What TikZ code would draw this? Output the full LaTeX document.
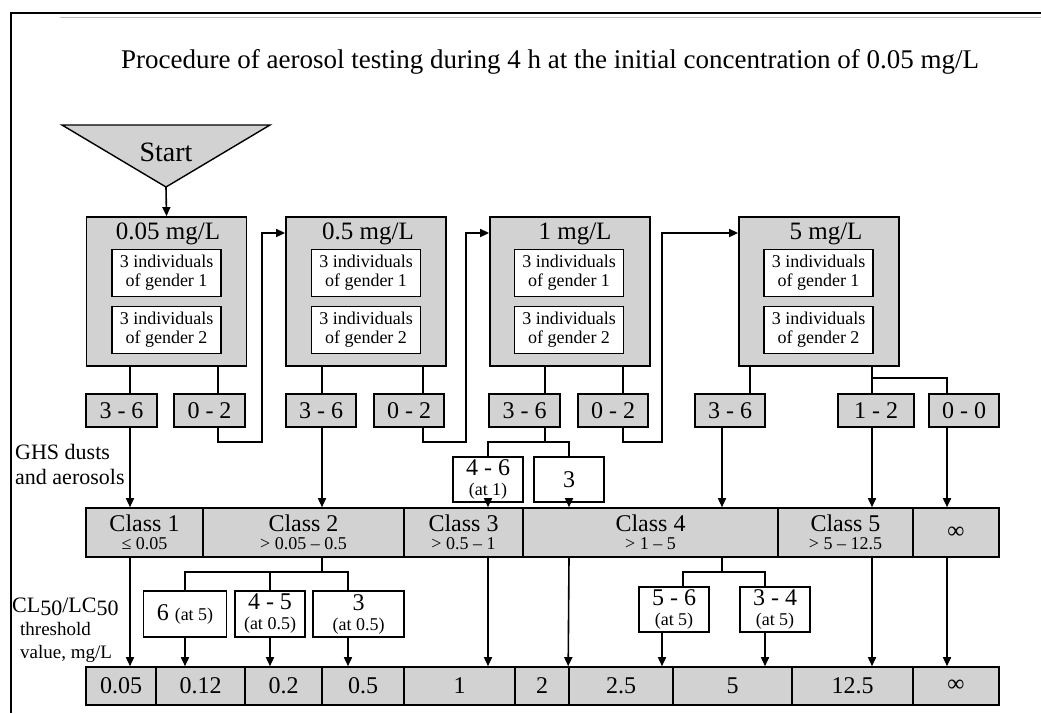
\documentclass[tikz,border=0pt]{standalone}
\usepackage{fontspec}
\setmainfont{Liberation Serif}
\usetikzlibrary{arrows.meta}
\definecolor{gris}{HTML}{D2D2D2}
\newcommand{\chico}{\fontsize{18}{18}\selectfont}
\newcommand{\medio}{\fontsize{18}{18}\selectfont}
\tikzset{
  conc/.style={draw, fill=gris, line width=1.8pt, minimum width=160pt, minimum height=149pt, inner sep=0pt},
  conct/.style={font=\fontsize{25}{25}\selectfont, inner sep=0pt},
  indiv/.style={draw, fill=white, line width=1.2pt, minimum width=109pt, minimum height=47pt,
                inner sep=0pt, align=center, font=\fontsize{18}{19}\selectfont},
  res/.style={draw, fill=gris, line width=1.6pt, minimum height=33pt, inner sep=0pt, font=\fontsize{24}{24}\selectfont},
  clase/.style={draw, fill=gris, line width=1.6pt, minimum height=49pt, inner sep=0pt, align=center,
                font=\fontsize{24}{18}\selectfont},
  valor/.style={draw, fill=gris, line width=1.6pt, minimum height=38pt, inner sep=0pt, font=\fontsize{24}{24}\selectfont},
  nota/.style={draw, fill=white, line width=1.4pt, inner sep=0pt, align=center, font=\fontsize{24}{20}\selectfont},
  rotulo/.style={anchor=west, align=left, inner sep=0pt},
  linea/.style={line width=1.6pt},
  flecha/.style={line width=1.6pt, -{Triangle[length=9pt,width=8pt]}},
}

\begin{document}
\begin{tikzpicture}[x=1pt, y=-1pt]
  \useasboundingbox (0,0) rectangle (1041,713);
  % marco
  \draw[line width=1.6pt] (11,713) -- (11,13) -- (1041,13);
  \draw[gray!50, line width=1pt] (60,17.5) -- (1041,17.5);
  \node[font=\fontsize{27}{27}\selectfont] (tit) at (550,62) {Procedure of aerosol testing during 4 h at the initial concentration of 0.05 mg/L};

  % inicio
  \draw[fill=gris, line width=1.4pt] (62,125) -- (270,125) -- (166,187) coordinate (ini) -- cycle;
  \node[font=\fontsize{28}{28}\selectfont] (start) at (166,152) {Start};

  % concentraciones
  \node[conc] (c1) at (166.5,291.5) {};
  \node[conc] (c2) at (366,291.5) {};
  \node[conc] (c3) at (570,291.5) {};
  \node[conc] (c4) at (819,291.5) {};
  \node[conct] (c1t) at (168,234) {0.05 mg/L};
  \node[conct] (c2t) at (368,234) {0.5 mg/L};
  \node[conct] (c3t) at (575,234) {1 mg/L};
  \node[conct] (c4t) at (826,234) {5 mg/L};
  \node[indiv] (c1a) at (166.5,273) {3 individuals\\of gender 1};
  \node[indiv] (c1b) at (166.5,330) {3 individuals\\of gender 2};
  \node[indiv] (c2a) at (366,273) {3 individuals\\of gender 1};
  \node[indiv] (c2b) at (366,330) {3 individuals\\of gender 2};
  \node[indiv] (c3a) at (569,273) {3 individuals\\of gender 1};
  \node[indiv] (c3b) at (569,330) {3 individuals\\of gender 2};
  \node[indiv] (c4a) at (818.5,273) {3 individuals\\of gender 1};
  \node[indiv] (c4b) at (818.5,330) {3 individuals\\of gender 2};

  % resultados
  \node[res, minimum width=71pt] (r1a) at (121.5,410.5) {3 - 6};
  \node[res, minimum width=71pt] (r1b) at (209.5,410.5) {0 - 2};
  \node[res, minimum width=70pt] (r2a) at (321,410.5) {3 - 6};
  \node[res, minimum width=70pt] (r2b) at (409,410.5) {0 - 2};
  \node[res, minimum width=71pt] (r3a) at (524.5,410.5) {3 - 6};
  \node[res, minimum width=70pt] (r3b) at (613,410.5) {0 - 2};
  \node[res, minimum width=70pt] (r4a) at (730,410.5) {3 - 6};
  \node[res, minimum width=76pt] (r4b) at (876,410.5) {1 - 2};
  \node[res, minimum width=70pt] (r4c) at (964,410.5) {0 - 0};

  % clases GHS
  \node[clase, minimum width=117pt] (k1) at (144.5,532.5) {Class 1\\{\chico ≤ 0.05}};
  \node[clase, minimum width=201pt] (k2) at (303.5,532.5) {Class 2\\{\chico > 0.05 – 0.5}};
  \node[clase, minimum width=119pt] (k3) at (463.5,532.5) {Class 3\\{\chico > 0.5 – 1}};
  \node[clase, minimum width=255pt] (k4) at (650.5,532.5) {Class 4\\{\chico > 1 – 5}};
  \node[clase, minimum width=135pt] (k5) at (845.5,532.5) {Class 5\\{\chico > 5 – 12.5}};
  \node[clase, minimum width=86pt] (k6) at (956,532.5) {∞};

  % notas
  \node[nota, minimum width=70pt, minimum height=45pt] (w1) at (488,479.5) {4 - 6\\{\medio (at 1)}};
  \node[nota, minimum width=70pt, minimum height=45pt] (w2) at (569,479.5) {3};
  \node[nota, minimum width=83pt, minimum height=46pt] (w3) at (185,614) {6 {\medio (at 5)}};
  \node[nota, minimum width=70pt, minimum height=46pt] (w4) at (270,614) {4 - 5\\{\medio (at 0.5)}};
  \node[nota, minimum width=91pt, minimum height=46pt] (w5) at (358.5,614) {3\\{\medio (at 0.5)}};
  \node[nota, minimum width=70pt, minimum height=45pt] (w6) at (674,609.5) {5 - 6\\{\medio (at 5)}};
  \node[nota, minimum width=70pt, minimum height=45pt] (w7) at (775,609.5) {3 - 4\\{\medio (at 5)}};

  % valores CL50
  \node[valor, minimum width=70pt] (b1) at (121,686) {0.05};
  \node[valor, minimum width=89pt] (b2) at (200.5,686) {0.12};
  \node[valor, minimum width=77pt] (b3) at (283.5,686) {0.2};
  \node[valor, minimum width=82pt] (b4) at (363,686) {0.5};
  \node[valor, minimum width=111pt] (b5) at (459.5,686) {1};
  \node[valor, minimum width=54pt] (b6) at (542,686) {2};
  \node[valor, minimum width=104pt] (b7) at (621,686) {2.5};
  \node[valor, minimum width=119pt] (b8) at (732.5,686) {5};
  \node[valor, minimum width=121pt] (b9) at (852.5,686) {12.5};
  \node[valor, minimum width=86pt] (b10) at (956,686) {∞};

  % rotulos
  \node[rotulo, font=\fontsize{22}{25}\selectfont] (ghs) at (15,464) {GHS dusts\\and aerosols};
  \node[rotulo, font=\fontsize{22}{22}\selectfont] (cl) at (12,607) {CL\raisebox{-3pt}{50}/LC\raisebox{-3pt}{50}};
  \node[rotulo, font=\fontsize{19}{23}\selectfont] (thr) at (20,642) {threshold\\value, mg/L};

  % uniones
  \coordinate (j3) at (545,442); \coordinate (j4) at (872,378);
  \coordinate (j2) at (322,572); \coordinate (j5) at (722,572);
  \draw[flecha] (ini) -- (c1.north);
  \draw[linea] (c1.south -| 130,0) -- (r1a.north -| 130,0); \draw[linea] (c1.south -| 218,0) -- (r1b.north -| 218,0);
  \draw[linea] (c2.south -| 322,0) -- (r2a.north -| 322,0); \draw[linea] (c2.south -| 423,0) -- (r2b.north -| 423,0);
  \draw[linea] (c3.south -| 545,0) -- (r3a.north -| 545,0); \draw[linea] (c3.south -| 623,0) -- (r3b.north -| 623,0);
  \draw[linea] (c4.south -| 750,0) -- (r4a.north -| 750,0); \draw[linea] (c4.south -| j4) -- (r4b.north -| j4);
  \draw[linea] (j4) -| (r4c.north -| 947,0);
  \draw[flecha] (r1b.south -| 218,0) |- (262,442) |- (c2.west |- 0,233);
  \draw[flecha] (r2b.south -| 423,0) |- (466,442) |- (c3.west |- 0,233);
  \draw[flecha] (r3b.south -| 623,0) |- (662,442) |- (c4.west |- 0,233);
  \draw[flecha] (r1a.south -| 130,0) -- (k1.north -| 130,0);
  \draw[flecha] (r2a.south -| 322,0) -- (k2.north -| 322,0);
  \draw[linea] (r3a.south -| j3) -- (j3) -| (w1.north); \draw[linea] (j3) -| (w2.north);
  \draw[flecha] (w1.south) -- (w1.south |- k3.north);
  \draw[flecha] (w2.south) -- (w2.south |- k4.north);
  \draw[flecha] (r4a.south -| 722,0) -- (k4.north -| 722,0);
  \draw[flecha] (r4b.south -| 872,0) -- (k5.north -| 872,0);
  \draw[flecha] (r4c.south -| 947,0) -- (k6.north -| 947,0);
  \draw[flecha] (k1.south -| 130,0) -- (b1.north -| 130,0);
  \draw[linea] (k2.south -| j2) -- (j2) -| (w3.north); \draw[linea] (j2) -| (w4.north);
  \draw[linea] (j2) -| (w5.north -| 348,0);
  \draw[flecha] (w3.south) -- (w3.south |- b2.north);
  \draw[flecha] (w4.south) -- (w4.south |- b3.north);
  \draw[flecha] (w5.south -| 348,0) -- (b4.north -| 348,0);
  \draw[flecha] (k3.south -| 488,0) -- (b5.north -| 488,0);
  \draw[flecha] (k4.south -| 569,0) -- (b7.north west);
  \draw[linea] (k4.south -| j5) -- (j5) -| (w6.north -| 683,0); \draw[linea] (j5) -| (w7.north -| 765,0);
  \draw[flecha] (w6.south -| 662,0) -- (b7.north -| 662,0);
  \draw[flecha] (w7.south -| 765,0) -- (b8.north -| 765,0);
  \draw[flecha] (k5.south -| 872,0) -- (b9.north -| 872,0);
  \draw[flecha] (k6.south -| 947,0) -- (b10.north -| 947,0);
\end{tikzpicture}
\end{document}
